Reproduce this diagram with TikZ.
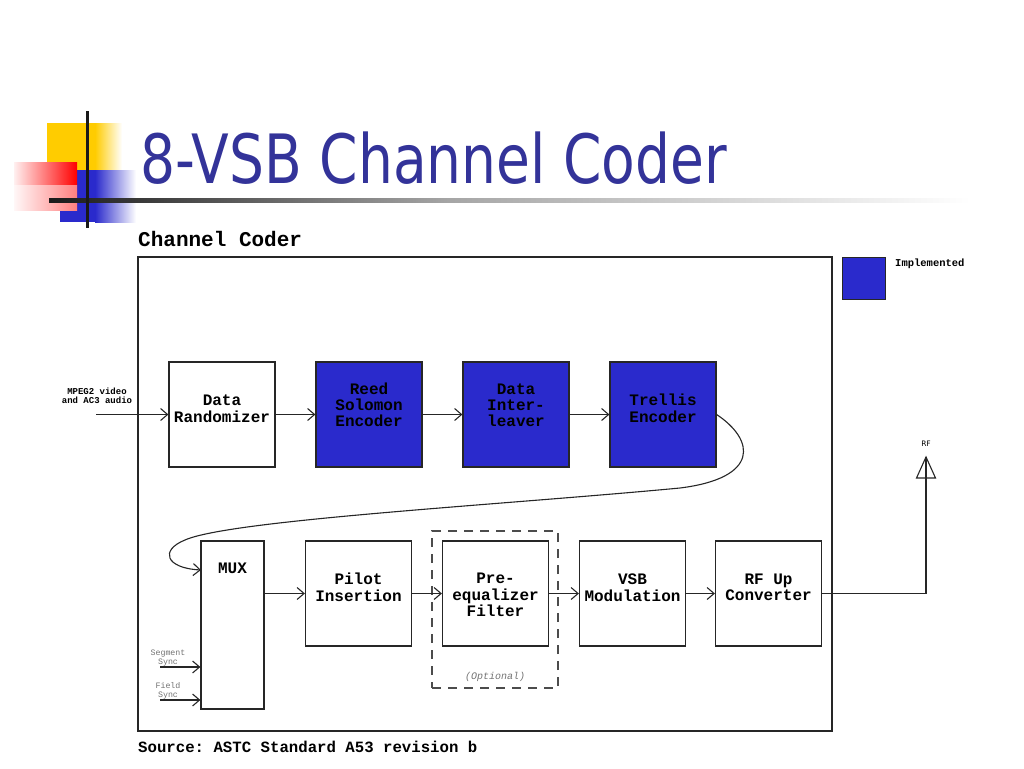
\documentclass[tikz,border=0pt]{standalone}
\usepackage{fontspec}
\setmainfont{DejaVu Sans}
\setmonofont{Liberation Mono}
\usetikzlibrary{arrows.meta}
\definecolor{implblue}{HTML}{2A2ACC}
\definecolor{titleblue}{HTML}{333399}
\definecolor{deco}{HTML}{FFCC00}
\newcommand{\boxtxt}[2][-0.5pt]{\raisebox{#1}[0pt][0pt]{\begin{tabular}{@{}c@{}}#2\end{tabular}}}
\begin{document}
\begin{tikzpicture}[x=1pt,y=-1pt,
  blk/.style={draw=black!85, line width=1.2pt, minimum width=106pt, minimum height=105pt,
    inner sep=0pt, font=\ttfamily\bfseries\fontsize{16}{16}\selectfont},
  impl/.style={blk, fill=implblue},
  arr/.style={-{Straight Barb[length=7pt,width=12pt]}, line width=1.1pt, draw=black!85},
  small/.style={font=\ttfamily\bfseries\fontsize{9}{9}\selectfont, align=center, inner sep=0pt},
  tiny/.style={font=\ttfamily\fontsize{8.3}{9}\selectfont, text=black!55, align=center, inner sep=0pt},
]
\useasboundingbox (0,0) rectangle (1024,768);
% --- title decoration ---
\fill[deco] (47,123) rectangle (95,170);
\shade[left color=deco, right color=white] (95,123) rectangle (122,170);
\fill[implblue] (60,170) rectangle (95,222);
\shade[left color=implblue, right color=white] (95,170) rectangle (136,222);
\shade[left color=red!6, right color=red] (14,162) rectangle (77,210);
\shade[top color=white!0, bottom color=white, opacity=0.5] (14,185) rectangle (77,210);
\shade[left color=black!90, right color=black!35] (49,198) rectangle (450,202);
\shade[left color=black!35, right color=white] (450,198) rectangle (970,202);
\fill[black!90] (85.5,111) rectangle (88.5,228);
\node[anchor=base west, inner sep=0pt, text=titleblue] (title) at (140,183)
  {\scalebox{0.81}[1]{\fontsize{68}{70}\selectfont 8-VSB Channel Coder}};
% --- frame ---
\node[anchor=base west, inner sep=0pt, font=\ttfamily\bfseries\fontsize{21}{21}\selectfont] (cclbl) at (138,246) {Channel Coder};
\node[draw=black!85, line width=1.2pt, minimum width=694pt, minimum height=474pt, inner sep=0pt] (frame) at (485,494) {};
\node[anchor=base west, inner sep=0pt, font=\ttfamily\bfseries\fontsize{15.7}{16}\selectfont] (src) at (138,752) {Source: ASTC Standard A53 revision b};
% --- legend ---
\node[draw=black!85, line width=1pt, fill=implblue, minimum width=43pt, minimum height=42pt, inner sep=0pt] (legbox) at (863.5,278) {};
\node[anchor=north west, inner sep=0pt, font=\ttfamily\bfseries\fontsize{10.5}{11}\selectfont] (legtxt) at (895,259) {Implemented};
% --- row 1 ---
\node[blk] (rand) at (222,414.5) {\boxtxt{Data\\Randomizer}};
\node[impl] (rs) at (369,414.5) {\boxtxt[3pt]{Reed\\Solomon\\Encoder}};
\node[impl] (il) at (516,414.5) {\boxtxt[3pt]{Data\\Inter-\\leaver}};
\node[impl] (tr) at (663,414.5) {\boxtxt{Trellis\\Encoder}};
\node[small] (inlbl) at (97,396) {MPEG2 video\\and AC3 audio};
\coordinate (in) at (96,414.5);
\draw[arr] (in) -- (rand);
\draw[arr] (rand) -- (rs);
\draw[arr] (rs) -- (il);
\draw[arr] (il) -- (tr);
% --- row 2 ---
\node[blk, minimum width=63pt, minimum height=168pt] (mux) at (232.5,625) {};
\node[font=\ttfamily\bfseries\fontsize{16}{16}\selectfont, inner sep=0pt] (muxlbl) at (232.5,568) {MUX};
\node[draw=black!70, line width=1.1pt, dash pattern=on 9pt off 7pt, minimum width=126pt, minimum height=157pt, inner sep=0pt] (opt) at (495,609.5) {};
\node[font=\ttfamily\itshape\fontsize{10}{10}\selectfont, text=black!55, inner sep=0pt] (optlbl) at (495,677) {(Optional)};
\node[blk] (pilot) at (358.5,593.5) {\boxtxt{Pilot\\Insertion}};
\node[blk] (preq) at (495.5,593.5) {\boxtxt[-8pt]{Pre-\\equalizer\\Filter}};
\node[blk] (vsb) at (632.5,593.5) {\boxtxt{VSB\\Modulation}};
\node[blk] (rfup) at (768.5,593.5) {\boxtxt{RF Up\\Converter}};
\draw[arr] (mux.east |- pilot) -- (pilot);
\draw[arr] (pilot) -- (preq);
\draw[arr] (preq) -- (vsb);
\draw[arr] (vsb) -- (rfup);
% --- trellis to mux ---
\coordinate (muxin) at (201,570);
\draw[arr] (tr.east) .. controls (755,440) and (760,478) .. (680,488)
  .. controls (500,505) and (230,520) .. (185,540)
  .. controls (160,550) and (165,568) .. (muxin);
% --- sync inputs ---
\node[tiny] (seglbl) at (168,658) {Segment\\Sync};
\node[tiny] (fldlbl) at (168,691) {Field\\Sync};
\coordinate (segin) at (160,667);
\coordinate (fldin) at (160,700);
\draw[arr] (segin) -- (mux.west |- segin);
\draw[arr] (fldin) -- (mux.west |- fldin);
% --- antenna ---
\coordinate (ant) at (926,457);
\draw[line width=1.1pt, draw=black!85] (ant) -- (916.5,478) -- (935.5,478) -- cycle;
\draw[line width=1.1pt, draw=black!85] (rfup.east) -| (ant);
\node[font=\rmfamily\fontsize{7.5}{8}\selectfont, inner sep=0pt] (rflbl) at (926,444) {RF};
\end{tikzpicture}
\end{document}
